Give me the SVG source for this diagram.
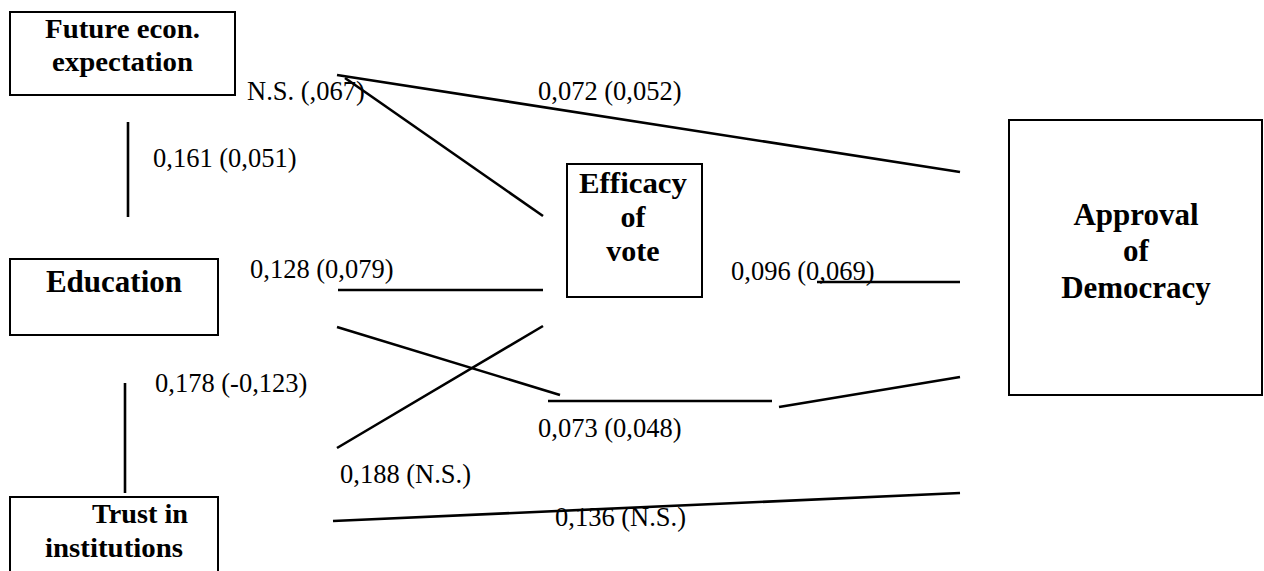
<svg xmlns="http://www.w3.org/2000/svg" width="1264" height="571" viewBox="0 0 1264 571">
<style>
.box{fill:#fff;stroke:#000;stroke-width:2}
text{font-family:'Liberation Serif',Tinos,'Times New Roman','Noto Serif','DejaVu Serif',serif;fill:#000}
.bt{font-weight:bold;font-size:31px;text-anchor:middle}
.ef{font-size:30px}
.gt{font-weight:bold;font-size:27px}
.lb{font-size:26.5px}
.cn line{stroke:#000;stroke-width:2.6;fill:none}
</style>
<rect width="1264" height="571" fill="#fff"/>
<g id="future">
<rect class="box" x="10" y="12" width="225" height="83"/>
<text class="gt" x="45" y="38" textLength="155" lengthAdjust="spacingAndGlyphs">Future econ.</text>
<text class="gt" x="52" y="71" textLength="141" lengthAdjust="spacingAndGlyphs">expectation</text>
</g>
<g id="education">
<rect class="box" x="10" y="259" width="208" height="76"/>
<text class="bt" x="114" y="292">Education</text>
</g>
<g id="trust">
<rect class="box" x="10" y="497" width="208" height="80"/>
<text class="gt" x="92" y="523" textLength="96" lengthAdjust="spacingAndGlyphs">Trust in</text>
<text class="gt" x="45" y="557" textLength="138" lengthAdjust="spacingAndGlyphs">institutions</text>
</g>
<g id="efficacy">
<rect class="box" x="567" y="164" width="135" height="133"/>
<text class="bt ef" x="633" y="193" textLength="108" lengthAdjust="spacingAndGlyphs">Efficacy</text>
<text class="bt ef" x="633" y="227">of</text>
<text class="bt ef" x="633" y="261">vote</text>
</g>
<g id="approval">
<rect class="box" x="1009" y="120" width="253" height="275"/>
<text class="bt" x="1136" y="225">Approval</text>
<text class="bt" x="1136" y="261">of</text>
<text class="bt" x="1136" y="298">Democracy</text>
</g>
<g id="connectors" class="cn">
<line x1="128" y1="122" x2="128" y2="217"/>
<line x1="125" y1="383" x2="125" y2="493"/>
<line x1="337" y1="75" x2="960" y2="172"/>
<line x1="345" y1="78" x2="543" y2="216"/>
<line x1="338" y1="290" x2="543" y2="290"/>
<line x1="337" y1="327" x2="560" y2="395"/>
<line x1="548" y1="401" x2="772" y2="401"/>
<line x1="779" y1="407" x2="960" y2="377"/>
<line x1="337" y1="448" x2="543" y2="326"/>
<line x1="817" y1="282" x2="960" y2="282"/>
<line x1="333" y1="521" x2="960" y2="493"/>
</g>
<g id="labels">
<text class="lb" x="247" y="100">N.S. (,067)</text>
<text class="lb" x="538" y="100">0,072 (0,052)</text>
<text class="lb" x="153" y="167">0,161 (0,051)</text>
<text class="lb" x="250" y="278">0,128 (0,079)</text>
<text class="lb" x="731" y="280">0,096 (0,069)</text>
<text class="lb" x="155" y="392">0,178 (-0,123)</text>
<text class="lb" x="538" y="437">0,073 (0,048)</text>
<text class="lb" x="340" y="483">0,188 (N.S.)</text>
<text class="lb" x="555" y="526">0,136 (N.S.)</text>
</g>
</svg>
